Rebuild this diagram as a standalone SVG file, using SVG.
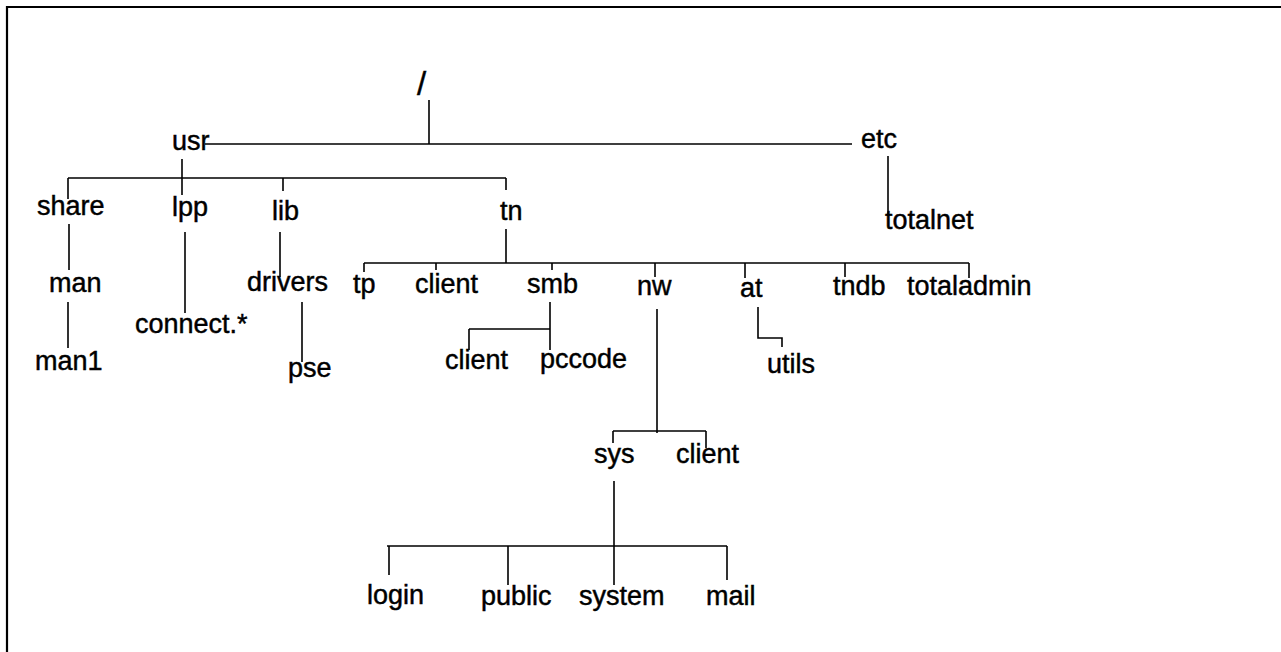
<svg xmlns="http://www.w3.org/2000/svg" width="1281" height="652" viewBox="0 0 1281 652">
  <style>
    .n text { font-family: "Liberation Sans", Arial, Helvetica, sans-serif; font-size: 27px; fill: #000; stroke: #000; stroke-width: 0.45; }
    .c path { fill: none; stroke: #000; stroke-width: 1.6; }
    .frame { fill: none; stroke: #000; stroke-width: 2.2; }
  </style>
  <rect width="1281" height="652" fill="#fff"/>
  <!-- page frame: top and left rules only -->
  <path class="frame" d="M6 7 H1281 M7 6 V652"/>

  <!-- directory connectors -->
  <g id="connectors" class="c">
    <!-- root to usr / etc -->
    <path d="M429 100 V144 M205 144 H852"/>
    <!-- usr to its children -->
    <path d="M182 159 V195 M68 178 H506 M68 178 V199 M283 178 V191 M506 178 V190"/>
    <path d="M69 224 V270 M68 302 V348"/>
    <path d="M185 232 V313"/>
    <path d="M280 232 V277 M302 302 V362"/>
    <!-- etc to totalnet -->
    <path d="M888 156 V214"/>
    <!-- tn to its children -->
    <path d="M506 229 V263 M364 263 H969 M364 263 V272 M436 263 V270 M552 263 V270 M655 263 V277 M745 263 V278 M845 263 V277 M969 263 V278"/>
    <!-- smb children -->
    <path d="M550 302 V350 M469 329 H550 M469 329 V350"/>
    <!-- at to utils -->
    <path d="M758 307 V338 H782 V347"/>
    <!-- nw to sys / client -->
    <path d="M657 309 V433 M613 431 H706 M613 431 V443 M706 431 V448"/>
    <!-- sys to its children -->
    <path d="M614 481 V585 M387 546 H727 M389 546 V575 M508 546 V585 M727 546 V580"/>
  </g>

  <g id="root" class="n"><text x="417" y="95" style="font-size:33px">/</text></g>
  <g id="usr" class="n"><text x="172" y="150">usr</text></g>
  <g id="etc" class="n"><text x="861" y="148">etc</text></g>
  <g id="totalnet" class="n"><text x="885" y="229">totalnet</text></g>

  <g id="share" class="n"><text x="37" y="215">share</text></g>
  <g id="lpp" class="n"><text x="172" y="216">lpp</text></g>
  <g id="lib" class="n"><text x="272" y="220">lib</text></g>
  <g id="tn" class="n"><text x="500" y="220">tn</text></g>

  <g id="man" class="n"><text x="49" y="292">man</text></g>
  <g id="man1" class="n"><text x="35" y="370">man1</text></g>
  <g id="connect" class="n"><text x="135" y="333">connect.*</text></g>
  <g id="drivers" class="n"><text x="247" y="291">drivers</text></g>
  <g id="pse" class="n"><text x="288" y="377">pse</text></g>

  <g id="tp" class="n"><text x="353" y="293">tp</text></g>
  <g id="tn-client" class="n"><text x="415" y="293">client</text></g>
  <g id="smb" class="n"><text x="527" y="293">smb</text></g>
  <g id="nw" class="n"><text x="637" y="295">nw</text></g>
  <g id="at" class="n"><text x="740" y="297">at</text></g>
  <g id="tndb" class="n"><text x="833" y="295">tndb</text></g>
  <g id="totaladmin" class="n"><text x="907" y="295">totaladmin</text></g>

  <g id="smb-client" class="n"><text x="445" y="369">client</text></g>
  <g id="pccode" class="n"><text x="540" y="368">pccode</text></g>
  <g id="utils" class="n"><text x="767" y="373">utils</text></g>

  <g id="sys" class="n"><text x="594" y="463">sys</text></g>
  <g id="nw-client" class="n"><text x="676" y="463">client</text></g>

  <g id="login" class="n"><text x="367" y="604">login</text></g>
  <g id="public" class="n"><text x="481" y="605">public</text></g>
  <g id="system" class="n"><text x="579" y="605">system</text></g>
  <g id="mail" class="n"><text x="706" y="605">mail</text></g>
</svg>
